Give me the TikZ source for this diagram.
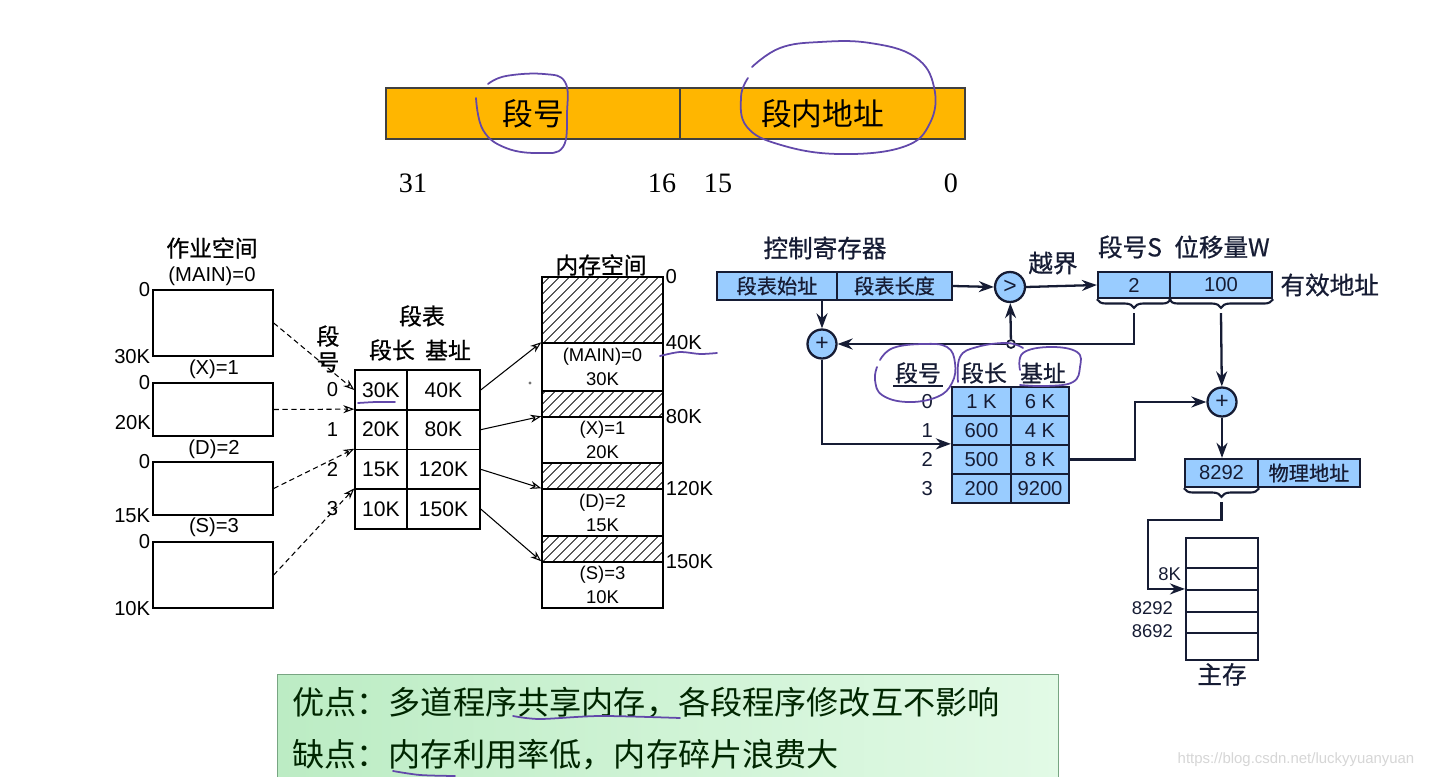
\documentclass[tikz,border=0pt]{standalone}
\usepackage{fontspec}
\setmainfont{Liberation Sans}
\newfontfamily\cjk{Noto Sans CJK SC}
\newfontfamily\cjkheavy[FakeBold=0.7]{Noto Sans CJK SC}
\newfontfamily\serifnum{Liberation Serif}
\usepackage{xcolor}
\usetikzlibrary{arrows.meta,positioning,calc,patterns.meta,decorations.pathreplacing}

\definecolor{barorange}{RGB}{255,182,0}
\definecolor{cellblue}{RGB}{153,204,255}
\definecolor{inkdark}{RGB}{22,28,52}
\definecolor{penpurple}{RGB}{98,72,170}
\definecolor{notegreenA}{RGB}{188,236,196}
\definecolor{notegreenB}{RGB}{226,250,230}
\definecolor{noteedge}{RGB}{120,165,130}

\begin{document}
\begin{tikzpicture}[
x=0.02cm, y=-0.02cm,
fieldbox/.style={
    draw=black!75,
    fill=barorange,
    line width=0.7pt,
    inner sep=0pt,
    minimum height=1.02cm,
    font=\cjk\fontsize{17.5}{20}\selectfont
},
bitno/.style={font=\serifnum\fontsize{16}{18}\selectfont},
cnlabel/.style={inner sep=1pt, font=\cjkheavy\fontsize{13}{15}\selectfont},
cnhead/.style={inner sep=1pt, text=inkdark, font=\cjkheavy\fontsize{14}{16}\selectfont},
addr/.style={inner sep=1pt, font=\fontsize{11.5}{13}\selectfont},
jobbox/.style={
    draw,
    line width=0.8pt,
    inner sep=0pt,
    minimum width=2.4cm
},
tcell/.style={
    draw,
    line width=0.8pt,
    inner sep=0pt,
    minimum height=0.795cm,
    font=\fontsize{12}{14}\selectfont
},
memseg/.style={
    draw,
    line width=0.8pt,
    inner sep=0pt,
    minimum width=2.42cm,
    align=center,
    font=\fontsize{10.5}{13.6}\selectfont
},
hole/.style={
    memseg,
    pattern={Lines[angle=45,distance=4pt,line width=0.5pt]}
},
ptr/.style={
    densely dashed,
    line width=0.6pt,
    -{Stealth[open,length=2.2mm,width=1.6mm]}
},
place/.style={
    line width=0.6pt,
    -{Stealth[open,length=2.2mm,width=1.6mm]}
},
regbox/.style={
    draw=inkdark,
    line width=1.3pt,
    fill=cellblue,
    inner sep=0pt,
    minimum height=0.56cm,
    text=inkdark,
    font=\cjkheavy\fontsize{11.5}{13}\selectfont
},
rcell/.style={
    draw=inkdark,
    line width=1.3pt,
    fill=cellblue,
    inner sep=0pt,
    minimum height=0.58cm,
    text=inkdark,
    font=\fontsize{11.5}{13}\selectfont
},
opcircle/.style={
    circle,
    draw=inkdark,
    line width=1.3pt,
    fill=cellblue,
    inner sep=0pt,
    minimum size=0.58cm,
    text=inkdark,
    font=\fontsize{13}{14}\selectfont
},
flow/.style={
    draw=inkdark,
    line width=1.3pt,
    -{Stealth[length=3mm,width=2.2mm]}
},
wire/.style={draw=inkdark, line width=1.3pt},
brace/.style={
    draw=inkdark,
    line width=1.2pt,
    decorate,
    decoration={brace,amplitude=5pt}
},
memcell/.style={
    draw=inkdark,
    line width=1.2pt,
    inner sep=0pt,
    minimum width=1.44cm
},
scribble/.style={draw=penpurple, line width=1pt, line cap=round},
notetext/.style={inner sep=0pt, text=black!85!green, font=\cjk\fontsize{18.3}{20}\selectfont}
]

\useasboundingbox (0,0) rectangle (1431,777);
\fill[white] (0,0) rectangle (1431,777);

% address format
\node[fieldbox, minimum width=5.88cm] (fseg) at (533,113.5) {段号};
\node[fieldbox, minimum width=5.7cm] (foff) at (822.5,113.5) {段内地址};
\node[bitno] (b31) at (413,183) {31};
\node[bitno] (b16) at (662,183) {16};
\node[bitno] (b15) at (718,183) {15};
\node[bitno] (b0) at (951,183) {0};

% job space
\node[cnlabel] (jobspace) at (212,248) {作业空间};
\node[addr] (lmain) at (212,276) {(MAIN)=0};
\node[jobbox, minimum height=1.32cm] (jmain) at (213,323) {};
\node[addr] (lx) at (214,369) {(X)=1};
\node[jobbox, minimum height=1.06cm] (jx) at (213,409.5) {};
\node[addr] (ld) at (214,449) {(D)=2};
\node[jobbox, minimum height=1.06cm] (jd) at (213,488.5) {};
\node[addr] (ls) at (214,527) {(S)=3};
\node[jobbox, minimum height=1.32cm] (js) at (213,575) {};

\node[addr, anchor=east] (a0m) at (jmain.north west) {0};
\node[addr, anchor=east] (a30) at (jmain.south west) {30K};
\node[addr, anchor=east] (a0x) at (jx.north west) {0};
\node[addr, anchor=east] (a20) at (153,423) {20K};
\node[addr, anchor=east] (a0d) at (jd.north west) {0};
\node[addr, anchor=east] (a15) at (jd.south west) {15K};
\node[addr, anchor=east] (a0s) at (js.north west) {0};
\node[addr, anchor=east] (a10) at (js.south west) {10K};

% segment table
\node[cnlabel] (stitle) at (422,316) {段表};
\node[cnlabel] (slen) at (392,350) {段长};
\node[cnlabel] (sbase) at (448,350) {基址};
\node[cnlabel, align=center, font=\cjkheavy\fontsize{13}{14.7}\selectfont] (sno) at (328,349) {段\\号};

\node[tcell, minimum width=1.04cm] (len0) at (381,390) {30K};
\node[tcell, minimum width=1.46cm] (base0) at (443.5,390) {40K};
\node[tcell, minimum width=1.04cm] (len1) at (381,429.7) {20K};
\node[tcell, minimum width=1.46cm] (base1) at (443.5,429.7) {80K};
\node[tcell, minimum width=1.04cm] (len2) at (381,469.3) {15K};
\node[tcell, minimum width=1.46cm] (base2) at (443.5,469.3) {120K};
\node[tcell, minimum width=1.04cm] (len3) at (381,509) {10K};
\node[tcell, minimum width=1.46cm] (base3) at (443.5,509) {150K};

\node[addr, left=8pt of len0] (n0) {0};
\node[addr, left=8pt of len1] (n1) {1};
\node[addr, left=8pt of len2] (n2) {2};
\node[addr, left=8pt of len3] (n3) {3};

% memory space
\node[cnlabel] (mtitle) at (601,265) {内存空间};
\node[hole, minimum height=1.32cm] (hole0) at (602.5,310) {};
\node[memseg, minimum height=0.96cm] (mmain) at (602.5,367) {(MAIN)=0\\30K};
\node[hole, minimum height=0.52cm] (hole1) at (602.5,404) {};
\node[memseg, minimum height=0.92cm] (mx) at (602.5,440) {(X)=1\\20K};
\node[hole, minimum height=0.52cm] (hole2) at (602.5,476) {};
\node[memseg, minimum height=0.94cm] (md) at (602.5,512.5) {(D)=2\\15K};
\node[hole, minimum height=0.52cm] (hole3) at (602.5,549) {};
\node[memseg, minimum height=0.92cm] (ms) at (602.5,585) {(S)=3\\10K};

\node[addr, anchor=west] (m0) at (hole0.north east) {0};
\node[addr, anchor=west] (m40) at (mmain.north east) {40K};
\node[addr, anchor=west] (m80) at (mx.north east) {80K};
\node[addr, anchor=west] (m120) at (md.north east) {120K};
\node[addr, anchor=west] (m150) at (ms.north east) {150K};
\node[circle, fill=black!55, inner sep=0.7pt] (speck) at (530,383) {};

\draw[ptr] (jmain.east) -- (len0.west);
\draw[ptr] (jx.east) -- (len1.north west);
\draw[ptr] (jd.east) -- (len2.north west);
\draw[ptr] (js.east) -- (len3.north west);

\draw[place] (base0.east) -- (mmain.north west);
\draw[place] (base1.east) -- (mx.north west);
\draw[place] (base2.east) -- (md.north west);
\draw[place] (base3.east) -- (ms.north west);

% address translation
\node[cnhead] (ctrl) at (825,248) {控制寄存器};
\node[regbox, minimum width=2.4cm] (regstart) at (777,286) {段表始址};
\node[regbox, minimum width=2.3cm] (reglen) at (894.5,286) {段表长度};
\node[opcircle, minimum size=0.6cm] (cmp) at (1010,287) {>};
\node[cnhead] (over) at (1053,263) {越界};

\node[cnhead] (segS) at (1130,247) {段号S};
\node[cnhead] (dispW) at (1222,247) {位移量W};
\node[regbox, minimum width=1.44cm, minimum height=0.52cm, font=\fontsize{11.5}{13}\selectfont] (eas) at (1134,285) {2};
\node[regbox, minimum width=2.04cm, minimum height=0.52cm, font=\fontsize{11.5}{13}\selectfont] (eaw) at (1221,285) {100};
\node[cnhead, right=3pt of eaw] (ealab) {有效地址};

\node[opcircle] (plus1) at (822,344) {+};
\node[circle, draw=inkdark, fill=white, line width=1pt, inner sep=1.6pt] (jn) at (1011,344) {};

\node[cnlabel, text=inkdark] (hno) at (918,373) {段号};
\node[cnlabel, text=inkdark] (hlen) at (984,373) {段长};
\node[cnlabel, text=inkdark] (hbase) at (1043,373) {基址};
\draw[wire, line width=1.2pt] (hno.south west) -- (hno.south east);

\node[rcell, minimum width=1.18cm] (rl0) at (981.5,401.5) {1 K};
\node[rcell, minimum width=1.16cm] (rb0) at (1040,401.5) {6 K};
\node[rcell, minimum width=1.18cm] (rl1) at (981.5,430.5) {600};
\node[rcell, minimum width=1.16cm] (rb1) at (1040,430.5) {4 K};
\node[rcell, minimum width=1.18cm] (rl2) at (981.5,459.5) {500};
\node[rcell, minimum width=1.16cm] (rb2) at (1040,459.5) {8 K};
\node[rcell, minimum width=1.18cm] (rl3) at (981.5,488.5) {200};
\node[rcell, minimum width=1.16cm] (rb3) at (1040,488.5) {9200};

\node[addr, text=inkdark, left=9pt of rl0] (rn0) {0};
\node[addr, text=inkdark, left=9pt of rl1] (rn1) {1};
\node[addr, text=inkdark, left=9pt of rl2] (rn2) {2};
\node[addr, text=inkdark, left=9pt of rl3] (rn3) {3};

\node[opcircle] (plus2) at (1222,402) {+};
\node[regbox, minimum width=1.46cm, font=\fontsize{11.5}{13}\selectfont] (pa) at (1221.5,473) {8292};
\node[regbox, minimum width=2.04cm] (pname) at (1309,473) {物理地址};

\node[memcell, minimum height=0.6cm] (mem0) at (1222,553) {};
\node[memcell, minimum height=0.44cm] (mem1) at (1222,579) {};
\node[memcell, minimum height=0.44cm] (mem2) at (1222,601) {};
\node[memcell, minimum height=0.42cm] (mem3) at (1222,622.5) {};
\node[memcell, minimum height=0.54cm] (mem4) at (1222,646.5) {};
\node[cnhead, below=0pt of mem4] (mainmem) {主存};
\node[addr, text=inkdark, anchor=east, font=\fontsize{10.5}{12}\selectfont] (a8k) at (1183,574) {8K};
\node[addr, text=inkdark, anchor=east, font=\fontsize{10.5}{12}\selectfont] (a8292) at (1175,608) {8292};
\node[addr, text=inkdark, anchor=east, font=\fontsize{10.5}{12}\selectfont] (a8692) at (1175,631) {8692};

\coordinate (stip) at ($(eas.south)+(0,14)$);
\coordinate (wtip) at ($(eaw.south)+(0,14)$);
\coordinate (ptip) at ($(pa.south)+(0,14)$);
\coordinate (bendpt) at (1135,430);
\coordinate (pturn) at (1148,520);

\draw[brace] (eas.south east) -- (eas.south west);
\draw[brace] (eaw.south east) -- (eaw.south west);
\draw[brace] (pa.south east) -- (pa.south west);

\draw[flow] (reglen.east) -- (cmp.west);
\draw[flow] (cmp.east) -- (eas.west);
\draw[wire] (stip) |- (jn);
\draw[flow] (jn) -- (plus1);
\draw[flow] (jn) -- (cmp);
\draw[flow] (plus1 |- regstart.south) -- (plus1);
\draw[flow] (plus1) |- (rl2.north west);
\draw[flow] (rb2.east) -| (bendpt) |- (plus2);
\draw[flow] (wtip) -- (plus2);
\draw[flow] (plus2) -- (plus2 |- pa.north);
\draw[flow] (ptip) |- (pturn) |- (mem2.north west);

% pros and cons
\node[draw=noteedge, line width=0.8pt, left color=notegreenA, right color=notegreenB,
      anchor=north west, minimum width=15.62cm, minimum height=2.6cm] (note) at (277,674) {};
\node[notetext, anchor=west] (pros) at (292,703) {优点：多道程序共享内存，各段程序修改互不影响};
\node[notetext, anchor=west] (cons) at (292,755) {缺点：内存利用率低，内存碎片浪费大};
\node[text=black!16, font=\fontsize{8.5}{10}\selectfont] (wm) at (1296,760) {https://blog.csdn.net/luckyyuanyuan};

% pen marks
\draw[scribble] plot[smooth, tension=0.7] coordinates {(476,98) (483,130) (506,148) (540,153) (563,147) (567,113) (565,82) (544,74) (506,76) (488,84)};
\draw[scribble] plot[smooth, tension=0.7] coordinates {(752,67) (780,48) (820,42) (870,43) (915,57) (934,87) (930,123) (903,147) (839,154) (781,145) (747,127) (741,97) (748,78)};
\draw[scribble] plot[smooth] coordinates {(358,403) (376,402) (395,402)};
\draw[scribble] plot[smooth] coordinates {(660,356) (680,352) (700,354) (717,353)};
\draw[scribble] plot[smooth, tension=0.7] coordinates {(880,360) (893,348) (923,344) (947,347) (955,363) (952,383) (937,397) (907,402) (882,395) (875,380) (877,367)};
\draw[scribble] plot[smooth, tension=0.7] coordinates {(958,382) (960,357) (977,347) (1007,343) (1023,348)};
\draw[scribble] plot[smooth, tension=0.7] coordinates {(1020,370) (1023,353) (1050,347) (1077,352) (1080,367) (1073,382) (1047,386) (1020,385)};
\draw[scribble] plot[smooth] coordinates {(513,716) (540,719) (600,716) (680,718)};
\draw[scribble] plot[smooth] coordinates {(393,771) (420,775) (455,776)};

\end{tikzpicture}
\end{document}
